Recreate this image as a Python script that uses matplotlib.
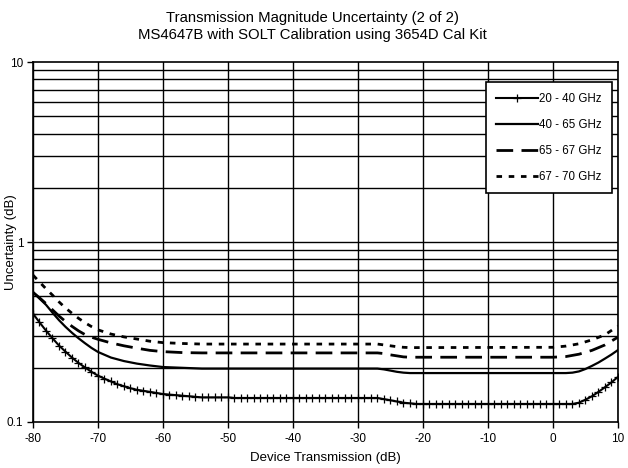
import matplotlib
matplotlib.use("Agg")
import matplotlib.pyplot as plt
import numpy as np
from matplotlib.ticker import FixedLocator, NullFormatter

plt.rcParams['font.family'] = ['Liberation Sans', 'DejaVu Sans']

# ---- data ----
labels = ["20 - 40 GHz", "40 - 65 GHz", "65 - 67 GHz", "67 - 70 GHz"]

x1 = list(range(-80, 11))
y1 = ([0.400, 0.358, 0.322, 0.292, 0.266, 0.246, 0.228, 0.213, 0.201, 0.190,
       0.181, 0.174, 0.168, 0.162, 0.158, 0.154, 0.151, 0.149, 0.147, 0.145,
       0.143, 0.142, 0.141, 0.140, 0.139, 0.138]          # -80 .. -55
      + [0.137] * 5 + [0.136] * 23                         # -54 .. -27
      + [0.134, 0.132, 0.130, 0.128, 0.127]                # -26 .. -22
      + [0.126] * 25                                       # -21 .. 3
      + [0.128, 0.133, 0.139, 0.147, 0.156, 0.166, 0.178]) # 4 .. 10

x2 = [-80, -79, -78, -77, -76, -75, -74, -73, -72, -71, -70, -68, -66, -64, -62,
      -60, -57, -54, -27, -26, -25, -24, -23, -22, 2, 3, 4, 5, 6, 7, 8, 9, 10]
y2 = [0.527, 0.485, 0.448, 0.405, 0.368, 0.338, 0.313, 0.292, 0.274, 0.258,
      0.245, 0.228, 0.218, 0.211, 0.206, 0.202, 0.200, 0.198, 0.198, 0.196,
      0.193, 0.190, 0.188, 0.187, 0.187, 0.188, 0.191, 0.197, 0.205, 0.214,
      0.225, 0.237, 0.251]

x3 = [-80, -79, -78, -77, -76, -75, -74, -73, -72, -71, -70, -68, -66, -64, -62,
      -60, -57, -54, -27, -26, -25, -24, -23, -22, 0, 2, 4, 6, 8, 10]
y3 = [0.525, 0.490, 0.455, 0.420, 0.388, 0.362, 0.340, 0.321, 0.306, 0.296,
      0.288, 0.275, 0.265, 0.257, 0.250, 0.246, 0.243, 0.242, 0.242, 0.240,
      0.236, 0.233, 0.230, 0.229, 0.229, 0.231, 0.238, 0.250, 0.268, 0.296]

x4 = [-80, -79, -78, -77, -76, -75, -74, -73, -72, -71, -70, -68, -66, -64, -62,
      -60, -57, -54, -27, -26, -25, -24, -23, -22, 0, 2, 4, 6, 8, 10]
y4 = [0.655, 0.600, 0.550, 0.507, 0.465, 0.430, 0.402, 0.377, 0.356, 0.339,
      0.325, 0.308, 0.297, 0.289, 0.281, 0.276, 0.273, 0.271, 0.271, 0.268,
      0.265, 0.262, 0.260, 0.259, 0.260, 0.264, 0.272, 0.286, 0.305, 0.341]

x_ticks = list(range(-80, 11, 10))
y_ticks = [0.1, 1, 10]
y_tick_labels = ["0.1", "1", "10"]

# ---- figure ----
fig = plt.figure(figsize=(6.28, 4.68), dpi=100)
ax = fig.add_axes([0.0525, 0.0983, 0.9315, 0.7692])

ax.set_yscale('log')
ax.set_xlim(-80, 10)
ax.set_ylim(0.1, 10)

# grid
minor_vals = [m * d for d in (0.1, 1) for m in range(2, 10)]
for v in minor_vals + [1]:
    ax.axhline(v, color='black', lw=1.0, zorder=1)
for xv in x_ticks:
    ax.axvline(xv, color='black', lw=1.0, zorder=1)

ax.plot(x1, y1, color='black', lw=1.5, marker='+', markersize=6,
        markeredgewidth=0.9, label=labels[0], zorder=3)
ax.plot(x2, y2, color='black', lw=1.6, label=labels[1], zorder=3)
ax.plot(x3, y3, color='black', lw=2.0, linestyle=(0, (6, 3)), label=labels[2], zorder=3)
ax.plot(x4, y4, color='black', lw=2.0, linestyle=(0, (2, 2.4)), label=labels[3], zorder=3)

ax.set_xticks(x_ticks)
ax.set_xticklabels([str(v) for v in x_ticks], fontsize=8.5)
ax.yaxis.set_major_locator(FixedLocator(y_ticks))
ax.set_yticklabels(y_tick_labels, fontsize=8.5)
ax.yaxis.set_minor_locator(FixedLocator([]))
ax.yaxis.set_minor_formatter(NullFormatter())
ax.tick_params(axis='both', direction='out', length=4, width=1, colors='black', pad=3)
ax.tick_params(axis='x', pad=4)

for s in ax.spines.values():
    s.set_color('black')
    s.set_linewidth(1.2)

ax.set_xlabel("Device Transmission (dB)", fontsize=9.5, labelpad=5)
ax.set_ylabel("Uncertainty (dB)", fontsize=9.5)
ax.yaxis.set_label_coords(-0.027, 0.5)

fig.text(0.497, 0.9615, "Transmission Magnitude Uncertainty (2 of 2)", ha='center', va='center', fontsize=10.7)
fig.text(0.497, 0.926, "MS4647B with SOLT Calibration using 3654D Cal Kit", ha='center', va='center', fontsize=10.7)

leg = ax.legend(loc='upper right', bbox_to_anchor=(0.99, 0.944), borderaxespad=0,
                fontsize=8.3, frameon=True, fancybox=False, handlelength=3.6,
                handletextpad=0.1, labelspacing=1.22, borderpad=0.9, numpoints=1)
leg.get_frame().set_edgecolor('black')
leg.get_frame().set_linewidth(1.2)
leg.get_frame().set_facecolor('white')
leg.get_frame().set_alpha(1)
leg.set_zorder(5)

fig.savefig("out.png", dpi=100)
